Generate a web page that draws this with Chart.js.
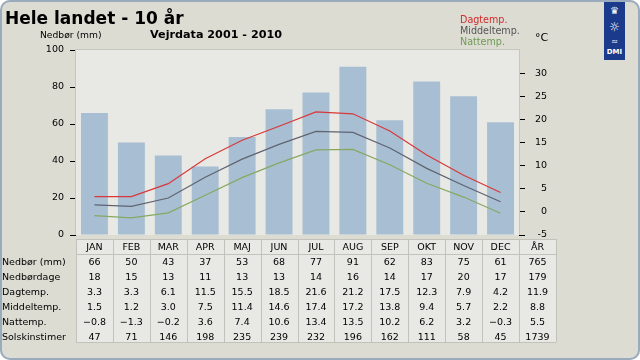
<!DOCTYPE html>
<html>
<head>
<meta charset="utf-8">
<script src="https://cdn.jsdelivr.net/npm/chart.js@4/dist/chart.umd.min.js"></script>
<style>
html, body { margin: 0; padding: 0; background: #fff; }
#ramme { position: relative; width: 640px; height: 360px; overflow: hidden; background: #dcdcd3;
  font-family: "DejaVu Sans", sans-serif; }
#graf { position: absolute; left: 0; top: 0; }
#kant { position: absolute; left: 0; top: 0; width: 640px; height: 360px; box-sizing: border-box;
  border: 2px solid #9aabbd; border-radius: 10px; box-shadow: 0 0 0 12px #fff; pointer-events: none; }
.tekst { position: absolute; white-space: nowrap; line-height: 1; }
#titel { left: 5px; top: 10px; font-size: 17px; font-weight: bold; color: #000; }
#undertitel { left: 150px; top: 29px; font-size: 11.2px; font-weight: bold; color: #000; }
#enhed { left: 40px; top: 30px; font-size: 9.2px; color: #000; }
#grader { left: 535px; top: 32px; font-size: 11px; color: #000; }
.forklaring { left: 460px; font-size: 9.6px; }
#logo { position: absolute; left: 604px; top: 0; width: 21px; height: 60px; background: #1b3a8c;
  color: #fff; text-align: center; }
#logo div { position: absolute; left: 0; width: 21px; text-align: center; line-height: 1; }
</style>
</head>
<body>
<div id="ramme">
  <canvas id="graf" width="640" height="360"></canvas>
  <div class="tekst" id="titel">Hele landet - 10 år</div>
  <div class="tekst" id="enhed">Nedbør (mm)</div>
  <div class="tekst" id="undertitel">Vejrdata 2001 - 2010</div>
  <div class="tekst forklaring" style="top:15px;color:#d02a2a">Dagtemp.</div>
  <div class="tekst forklaring" style="top:26px;color:#555555">Middeltemp.</div>
  <div class="tekst forklaring" style="top:37px;color:#6f9a55">Nattemp.</div>
  <div class="tekst" id="grader">°C</div>
  <div id="logo">
    <div style="top:6px;font-size:10px">♛</div>
    <div style="top:21px;font-size:12px">☼</div>
    <div style="top:38px;font-size:8px">≈</div>
    <div style="top:49px;font-size:7px;font-weight:bold">DMI</div>
  </div>
  <div id="kant"></div>
</div>
<script>
const maaneder = ['JAN', 'FEB', 'MAR', 'APR', 'MAJ', 'JUN', 'JUL', 'AUG', 'SEP', 'OKT', 'NOV', 'DEC'];
const nedboer = [66, 50, 43, 37, 53, 68, 77, 91, 62, 83, 75, 61];
const nedboerdage = [18, 15, 13, 11, 13, 13, 14, 16, 14, 17, 20, 17];
const dagTemp = [3.3, 3.3, 6.1, 11.5, 15.5, 18.5, 21.6, 21.2, 17.5, 12.3, 7.9, 4.2];
const middelTemp = [1.5, 1.2, 3.0, 7.5, 11.4, 14.6, 17.4, 17.2, 13.8, 9.4, 5.7, 2.2];
const natTemp = [-0.8, -1.3, -0.2, 3.6, 7.4, 10.6, 13.4, 13.5, 10.2, 6.2, 3.2, -0.3];
const solskinstimer = [47, 71, 146, 198, 235, 239, 232, 196, 162, 111, 58, 45];
const aarHeader = 'ÅR';
const aarVaerdier = ['765', '179', '11.9', '8.8', '5.5', '1739'];
const nedboerTicks = [0, 20, 40, 60, 80, 100];
const tempTicks = [-5, 0, 5, 10, 15, 20, 25, 30];

const skrift = '"DejaVu Sans", sans-serif';

// en decimal og rigtigt minustegn i tabellen
function fmt1(v) {
    const s = v.toFixed(1);
    return v < 0 ? '\u2212' + s.slice(1) : s;
}

const tabelRaekker = [
    ['Nedbør (mm)', nedboer.map(String)],
    ['Nedbørdage', nedboerdage.map(String)],
    ['Dagtemp.', dagTemp.map(fmt1)],
    ['Middeltemp.', middelTemp.map(fmt1)],
    ['Nattemp.', natTemp.map(fmt1)],
    ['Solskinstimer', solskinstimer.map(String)]
];

// tegner tabellen under grafen, kolonnerne følger x-aksen
const tabelPlugin = {
    id: 'tabel',
    beforeDatasetsDraw(chart) {
        const c = chart.ctx, a = chart.chartArea;
        c.save();
        c.fillStyle = '#e8e9e4';
        c.fillRect(a.left, a.top, a.right - a.left, a.bottom - a.top);
        c.strokeStyle = '#c6c6be';
        c.lineWidth = 1;
        c.beginPath();
        c.moveTo(a.left - 0.5, a.bottom);
        c.lineTo(a.left - 0.5, a.top - 0.5);
        c.lineTo(a.right + 0.5, a.top - 0.5);
        c.lineTo(a.right + 0.5, a.bottom);
        c.stroke();
        c.restore();
    },
    afterDraw(chart) {
        const c = chart.ctx, x = chart.scales.x;
        const w = x.getPixelForValue(1) - x.getPixelForValue(0);
        const venstre = x.getPixelForValue(0) - w / 2;
        const top = 239, hovedBund = 254, bund = 342;
        const kolonner = maaneder.concat([aarHeader]);
        c.save();
        c.fillStyle = '#e8e9e4';
        c.fillRect(venstre, top, w * kolonner.length, bund - top);
        c.strokeStyle = '#c2c2ba';
        c.lineWidth = 1;
        c.beginPath();
        for (let i = 0; i <= kolonner.length; i++) {
            const px = Math.round(venstre + i * w) + 0.5;
            c.moveTo(px, top);
            c.lineTo(px, bund);
        }
        c.moveTo(venstre, top + 0.5);
        c.lineTo(venstre + w * kolonner.length, top + 0.5);
        c.moveTo(venstre, hovedBund + 0.5);
        c.lineTo(venstre + w * kolonner.length, hovedBund + 0.5);
        c.moveTo(venstre, bund + 0.5);
        c.lineTo(venstre + w * kolonner.length, bund + 0.5);
        c.stroke();

        c.font = '9.5px ' + skrift;
        c.fillStyle = '#000';
        c.textBaseline = 'alphabetic';
        c.textAlign = 'center';
        kolonner.forEach((m, i) => c.fillText(m, venstre + (i + 0.5) * w, 250));
        tabelRaekker.forEach((r, j) => {
            const y = 265 + j * 15;
            c.textAlign = 'left';
            c.fillText(r[0], 2, y);
            c.textAlign = 'center';
            r[1].forEach((v, i) => c.fillText(v, venstre + (i + 0.5) * w, y));
            c.fillText(aarVaerdier[j], venstre + 12.5 * w, y);
        });
        c.restore();
    }
};

const ctx = document.getElementById('graf').getContext('2d');
new Chart(ctx, {
    type: 'bar',
    data: {
        labels: maaneder,
        datasets: [
            { type: 'line', label: 'Dagtemp.', data: dagTemp, yAxisID: 'yTemp',
              borderColor: '#d8383a', borderWidth: 1.2, pointRadius: 0, tension: 0, order: 1 },
            { type: 'line', label: 'Middeltemp.', data: middelTemp, yAxisID: 'yTemp',
              borderColor: '#5f6370', borderWidth: 1.2, pointRadius: 0, tension: 0, order: 2 },
            { type: 'line', label: 'Nattemp.', data: natTemp, yAxisID: 'yTemp',
              borderColor: '#86a862', borderWidth: 1.2, pointRadius: 0, tension: 0, order: 3 },
            { type: 'bar', label: 'Nedbør (mm)', data: nedboer, yAxisID: 'yNedboer',
              backgroundColor: '#a8bfd3', barPercentage: 0.73, categoryPercentage: 1, order: 4 }
        ]
    },
    options: {
        responsive: false,
        animation: false,
        layout: { padding: { left: 0, top: 50, right: 93, bottom: 125 } },
        plugins: { legend: { display: false }, tooltip: { enabled: false } },
        scales: {
            x: { display: false },
            yNedboer: {
                position: 'left', min: 0, max: 100,
                afterBuildTicks: s => { s.ticks = nedboerTicks.map(v => ({ value: v })); },
                afterFit: s => { s.width = 76; },
                ticks: { color: '#000', padding: 6, font: { family: skrift, size: 9.5 } },
                grid: { drawOnChartArea: false, color: '#000', tickLength: 6 },
                border: { display: false }
            },
            yTemp: {
                position: 'right', min: -5, max: 35,
                afterBuildTicks: s => { s.ticks = tempTicks.map(v => ({ value: v })); },
                afterFit: s => { s.width = 28; },
                ticks: { color: '#000', padding: 8, crossAlign: 'far', font: { family: skrift, size: 9.5 } },
                grid: { drawOnChartArea: false, color: '#000', tickLength: 6 },
                border: { display: false }
            }
        }
    },
    plugins: [tabelPlugin]
});
</script>
</body>
</html>
